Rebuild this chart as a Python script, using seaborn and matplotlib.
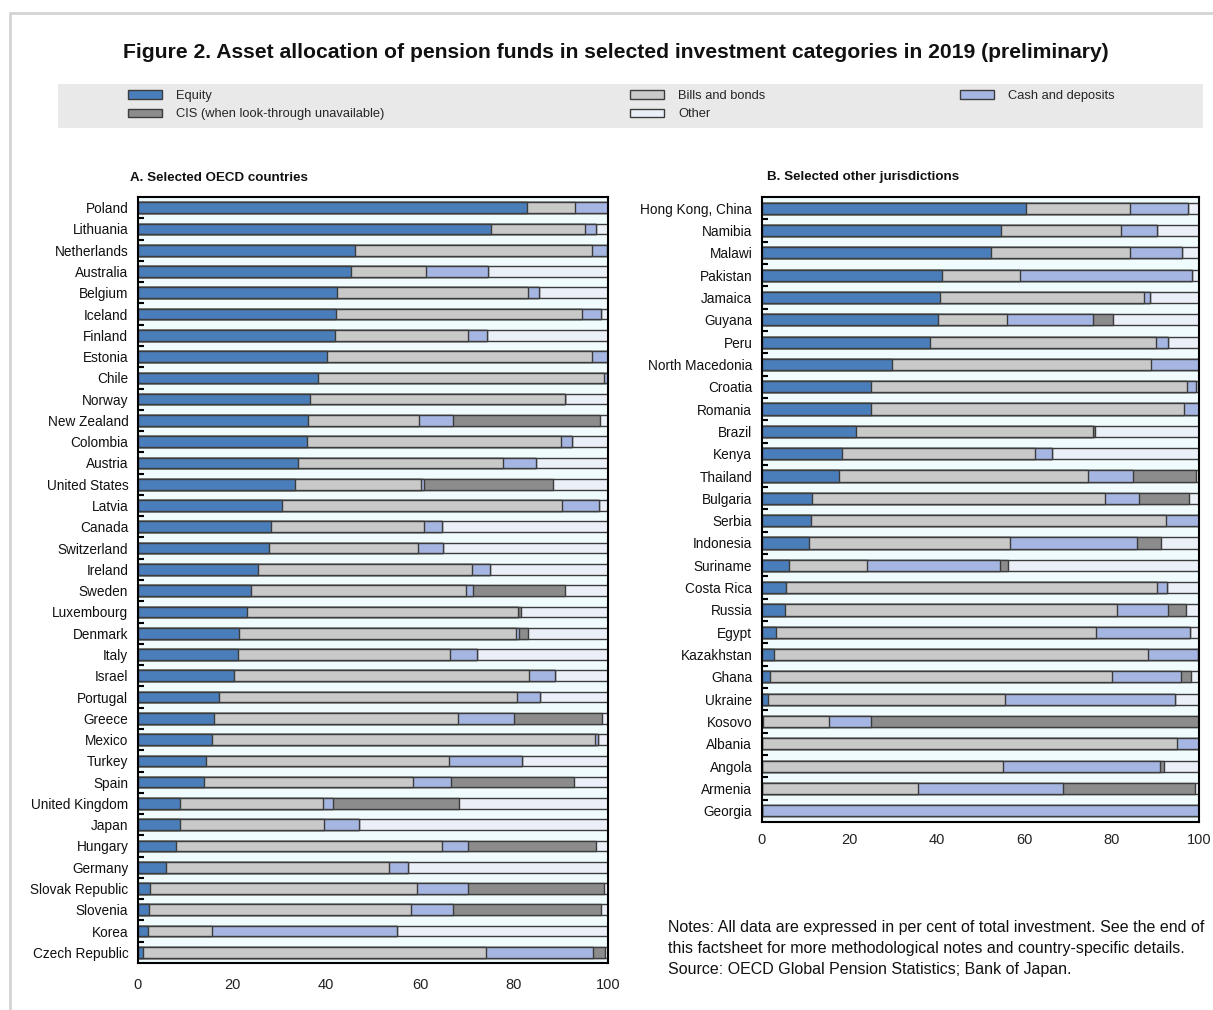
import numpy as np
import pandas as pd
import matplotlib
matplotlib.use("Agg")
import matplotlib.pyplot as plt
from matplotlib.patches import Patch, Rectangle
from matplotlib.lines import Line2D
from matplotlib.ticker import FixedLocator
import seaborn as sns

# ---- Panel A: selected OECD countries (per cent of total investment) ----
oecd_countries = [
    "Poland", "Lithuania", "Netherlands", "Australia", "Belgium", "Iceland",
    "Finland", "Estonia", "Chile", "Norway", "New Zealand", "Colombia",
    "Austria", "United States", "Latvia", "Canada", "Switzerland", "Ireland",
    "Sweden", "Luxembourg", "Denmark", "Italy", "Israel", "Portugal",
    "Greece", "Mexico", "Turkey", "Spain", "United Kingdom", "Japan",
    "Hungary", "Germany", "Slovak Republic", "Slovenia", "Korea",
    "Czech Republic",
]
oecd_equity = [82.8, 75.0, 46.1, 45.4, 42.4, 42.2, 42.0, 40.2, 38.2, 36.6, 36.2, 36.0,
               34.1, 33.5, 30.6, 28.3, 27.9, 25.5, 24.0, 23.1, 21.4, 21.3, 20.5, 17.2,
               16.1, 15.8, 14.5, 14.1, 8.9, 8.9, 8.0, 6.0, 2.5, 2.3, 2.2, 1.1]
oecd_bonds = [10.1, 20.0, 50.6, 15.9, 40.5, 52.3, 28.2, 56.5, 61.0, 54.2, 23.5, 54.0,
              43.6, 26.8, 59.7, 32.5, 31.6, 45.6, 45.7, 57.8, 59.1, 45.1, 62.6, 63.4,
              51.9, 81.4, 51.6, 44.4, 30.4, 30.6, 56.6, 47.5, 56.9, 55.7, 13.6, 72.9]
oecd_cash = [7.1, 2.5, 3.1, 13.1, 2.4, 4.1, 4.0, 3.3, 0.8, 0.0, 7.3, 2.3,
             7.0, 0.6, 7.7, 3.8, 5.3, 3.8, 1.6, 0.0, 0.5, 5.7, 5.6, 4.9,
             12.0, 0.7, 15.5, 8.1, 2.2, 7.5, 5.6, 3.9, 10.8, 9.1, 39.3, 22.9]
oecd_cis = [0.0, 0.0, 0.2, 0.0, 0.0, 0.0, 0.0, 0.0, 0.0, 0.0, 31.3, 0.0,
            0.0, 27.3, 0.0, 0.0, 0.0, 0.0, 19.5, 0.5, 1.9, 0.0, 0.0, 0.0,
            18.7, 0.0, 0.0, 26.2, 26.8, 0.0, 27.3, 0.0, 28.9, 31.5, 0.0, 2.5]
oecd_other = [0.0, 2.5, 0.0, 25.6, 14.7, 1.4, 25.8, 0.0, 0.0, 9.2, 1.7, 7.7,
              15.3, 11.8, 2.0, 35.4, 35.2, 25.1, 9.2, 18.6, 17.1, 27.9, 11.3, 14.5,
              1.3, 2.1, 18.4, 7.2, 31.7, 53.0, 2.5, 42.6, 0.9, 1.4, 44.9, 0.6]

# ---- Panel B: selected other jurisdictions ----
other_countries = [
    "Hong Kong, China", "Namibia", "Malawi", "Pakistan", "Jamaica", "Guyana",
    "Peru", "North Macedonia", "Croatia", "Romania", "Brazil", "Kenya",
    "Thailand", "Bulgaria", "Serbia", "Indonesia", "Suriname", "Costa Rica",
    "Russia", "Egypt", "Kazakhstan", "Ghana", "Ukraine", "Kosovo", "Albania",
    "Angola", "Armenia", "Georgia",
]
other_equity = [60.5, 54.8, 52.4, 41.3, 40.7, 40.2, 38.5, 29.7, 25.0, 25.0, 21.5, 18.2,
                17.7, 11.5, 11.2, 10.7, 6.1, 5.4, 5.2, 3.1, 2.7, 1.8, 1.4, 0.2, 0.0,
                0.0, 0.0, 0.0]
other_bonds = [23.6, 27.3, 31.9, 17.8, 46.7, 15.8, 51.6, 59.3, 72.3, 71.6, 54.2, 44.2,
               56.9, 66.9, 81.3, 46.1, 18.0, 84.9, 76.1, 73.3, 85.7, 78.3, 54.1, 15.1,
               94.9, 55.2, 35.6, 0.0]
other_cash = [13.3, 8.4, 11.7, 39.3, 1.3, 19.7, 2.7, 11.0, 2.1, 3.4, 0.0, 4.0,
              10.4, 7.8, 7.5, 29.1, 30.3, 2.3, 11.5, 21.5, 11.4, 15.7, 39.0, 9.7,
              5.1, 35.9, 33.3, 100.0]
other_cis = [0.0, 0.0, 0.0, 0.0, 0.0, 4.6, 0.0, 0.0, 0.0, 0.0, 0.4, 0.0,
             14.3, 11.5, 0.0, 5.4, 1.9, 0.0, 4.2, 0.0, 0.2, 2.4, 0.0, 75.0,
             0.0, 0.9, 30.1, 0.0]
other_other = [2.6, 9.5, 4.0, 1.6, 11.3, 19.7, 7.2, 0.0, 0.6, 0.0, 23.9, 33.6,
               0.7, 2.3, 0.0, 8.7, 43.7, 7.4, 3.0, 2.1, 0.0, 1.8, 5.5, 0.0,
               0.0, 8.0, 1.0, 0.0]

x_ticks = [0, 20, 40, 60, 80, 100]
categories = ["Equity", "Bills and bonds", "Cash and deposits",
              "CIS (when look-through unavailable)", "Other"]
colors = {
    "Equity": "#4a7ebb",
    "Bills and bonds": "#c9c9c9",
    "Cash and deposits": "#a6b6e3",
    "CIS (when look-through unavailable)": "#8c8c8c",
    "Other": "#ebeff8",
}
EDGE = "#3c3c3c"
AX_BG = "#f0fbfe"
W, H = 1213, 1010

sns.set_theme(style="white")
FONT = ["Liberation Sans Narrow", "Liberation Sans", "DejaVu Sans"]
ARIAL = ["Liberation Sans", "DejaVu Sans"]
plt.rcParams["font.family"] = FONT


def make_frame(countries, eq, bo, ca, ci, ot):
    return pd.DataFrame({"country": countries, "Equity": eq, "Bills and bonds": bo,
                         "Cash and deposits": ca,
                         "CIS (when look-through unavailable)": ci, "Other": ot})


def draw_panel(ax, df, xpad):
    # Stack by drawing running totals from the outermost segment inward
    running = df[categories].cumsum(axis=1)
    for cat in reversed(categories):
        plot_df = pd.DataFrame({"country": df["country"], "value": running[cat]})
        sns.barplot(data=plot_df, x="value", y="country", orient="h", ax=ax,
                    color=colors[cat], saturation=1, width=0.5, errorbar=None,
                    edgecolor=EDGE, linewidth=1.0)
    n = len(df)
    ax.set_facecolor(AX_BG)
    ax.set_xlim(0, 100)
    ax.set_ylim(n - 0.5, -0.5)
    ax.set_xlabel("")
    ax.set_ylabel("")
    ax.set_xticks(x_ticks)
    ax.set_xticklabels([str(t) for t in x_ticks], family=ARIAL, fontsize=10.5)
    ax.tick_params(axis="x", direction="in", length=5, width=1.5, colors="black",
                   pad=xpad, labelcolor="#222222")
    ax.tick_params(axis="y", which="major", length=0, pad=7)
    ax.yaxis.set_minor_locator(FixedLocator(np.arange(0.5, n - 0.5, 1.0)))
    ax.tick_params(axis="y", which="minor", direction="in", length=4, width=1.5,
                   colors="black", left=True)
    for lab in ax.get_yticklabels():
        lab.set_fontfamily(FONT)
        lab.set_fontsize(9.8)
        lab.set_color("#111111")
    for sp in ax.spines.values():
        sp.set_visible(True)
        sp.set_color("black")
        sp.set_linewidth(1.5)


def px(x, y):
    return x / W, 1 - y / H


fig = plt.figure(figsize=(W / 100, H / 100), dpi=100)
fig.patch.set_facecolor("white")

# frame lines at the top and left of the sheet
fig.add_artist(Line2D([10 / W, 1.0], [1 - 13 / H, 1 - 13 / H],
                      transform=fig.transFigure, color="#d4d4d4", lw=2))
fig.add_artist(Line2D([10 / W, 10 / W], [0.0, 1 - 13 / H],
                      transform=fig.transFigure, color="#d4d4d4", lw=2))

fig.text(*px(616, 53),
         "Figure 2. Asset allocation of pension funds in selected investment categories in 2019 (preliminary)",
         ha="center", va="center", fontsize=15.2, fontweight="bold", family=ARIAL,
         color="#111111")

# legend band
fig.add_artist(Rectangle(px(58, 128), (1203 - 58) / W, 44 / H,
                         transform=fig.transFigure, facecolor="#e9e9e9",
                         edgecolor="none", zorder=0))


def legend_col(labels, x_px):
    handles = [Patch(facecolor=colors[l], edgecolor=EDGE, linewidth=1.0) for l in labels]
    fig.legend(handles, labels, loc="upper left", bbox_to_anchor=px(x_px, 90),
               frameon=False, ncol=1, handlelength=2.65, handleheight=0.62,
               handletextpad=1.1, labelspacing=0.5, borderpad=0, borderaxespad=0,
               prop={"family": FONT, "size": 9.3})


legend_col(["Equity", "CIS (when look-through unavailable)"], 128)
legend_col(["Bills and bonds", "Other"], 630)
legend_col(["Cash and deposits"], 960)

ax_a = fig.add_axes([138 / W, 1 - 963 / H, 470 / W, 766 / H])
ax_b = fig.add_axes([762 / W, 1 - 822 / H, 437 / W, 625 / H])

draw_panel(ax_a, make_frame(oecd_countries, oecd_equity, oecd_bonds, oecd_cash,
                            oecd_cis, oecd_other), xpad=11)
draw_panel(ax_b, make_frame(other_countries, other_equity, other_bonds, other_cash,
                            other_cis, other_other), xpad=8)

fig.text(*px(130, 178), "A. Selected OECD countries", ha="left", va="center",
         fontsize=9.6, family=FONT, fontweight="bold", color="#111111")
fig.text(*px(767, 177), "B. Selected other jurisdictions", ha="left", va="center",
         fontsize=9.6, family=FONT, fontweight="bold", color="#111111")

notes = ("Notes: All data are expressed in per cent of total investment. See the end of\n"
         "this factsheet for more methodological notes and country-specific details.\n"
         "Source: OECD Global Pension Statistics; Bank of Japan.")
fig.text(*px(668, 920), notes, ha="left", va="top", fontsize=11.5,
         family=ARIAL, color="#111111", linespacing=1.5)

fig.savefig("out.png", dpi=100, facecolor="white")
